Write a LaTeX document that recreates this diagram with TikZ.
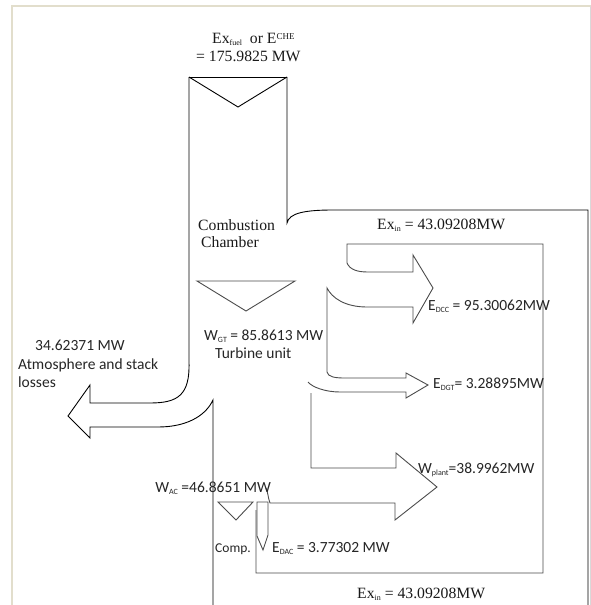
\documentclass[tikz,border=0pt]{standalone}
\usepackage{fontspec}
\setmainfont{Liberation Serif}
\newfontfamily\carlito{Carlito}
\newcommand{\sbs}[1]{\raisebox{-0.35ex}{\fontsize{8}{8}\selectfont #1}}
\newcommand{\sps}[1]{\raisebox{0.55ex}{\fontsize{9}{9}\selectfont #1}}
\tikzset{
  mainline/.style={draw=black, line width=0.9pt, line join=miter},
  grayline/.style={draw=black!70, line width=0.9pt, line join=miter},
  pageline/.style={draw=black!12!yellow!8!gray!30, line width=2pt},
  serif/.style={inner sep=0pt, anchor=base west, font=\fontsize{15.7}{18}\selectfont, text=black!90},
  sans/.style={inner sep=0pt, anchor=base west, font=\carlito\fontsize{15.5}{18}\selectfont, text=black!85},
}
\begin{document}
\begin{tikzpicture}[x=1pt,y=-1pt]
\useasboundingbox (0,0) rectangle (591,605);
\fill[white] (0,0) rectangle (591,605);
% page frame
\draw[draw={rgb,255:red,226;green,222;blue,204}, line width=2pt] (12,605) -- (12,6) -- (591,6);
\draw[draw=black!15, line width=1pt] (590,6) -- (590,605);
% fuel box
\draw[mainline] (189,77) -- (287,77);
\draw[mainline] (189,77) -- (238,107) -- (287,77);
% left wall and exhaust arrow
\draw[mainline] (189,77) -- (189,362) .. controls (190,395) and (178,403) .. (150,403)
  -- (90,403) -- (90,385) -- (68,416) -- (90,438) -- (90,427) -- (158,427)
  .. controls (185,427) and (205,417) .. (213,400) -- (213,605);
% right wall and outer frame
\draw[mainline] (287,77) -- (287,223) .. controls (289,213) and (305,210) .. (333,210)
  -- (588,210) -- (588,605);
% turbine triangle
\draw[grayline] (197,281) -- (295,281) -- (246,311) -- cycle;
% compressor triangle
\draw[grayline] (218,502) -- (253,502) -- (236,520) -- cycle;
% inner rectangle with E_DCC arrow
\draw[grayline] (256,510) -- (256,573) -- (543,573) -- (543,244) -- (347,244) -- (347,263)
  .. controls (350,270) and (358,272) .. (368,272) -- (413,272) -- (413,255) -- (433,288)
  -- (413,323) -- (413,307) -- (367,307) .. controls (345,307) and (332,298) .. (327,288)
  -- (327,372) .. controls (328,377) and (335,378) .. (345,378) -- (406,378) -- (406,373)
  -- (428,385) -- (406,398) -- (406,392) -- (340,392) .. controls (325,392) and (312,387) .. (308,382);
% W_plant arrow
\draw[grayline] (311,393) -- (311,468) -- (396,468) -- (396,453) -- (437,487) -- (395,520)
  -- (395,503) -- (270,503) .. controls (268,498) and (268,492) .. (266,488);
% E_DAC arrow
\draw[grayline] (257,502) -- (268,502) -- (268,535) -- (263,550) -- (257,536) -- cycle;
% texts
\node[serif] (fuel1) at (212,43) {Ex\sbs{fuel}\ \ or E\sps{CHE}};
\node[serif] (fuel2) at (196,61) {= 175.9825 MW};
\node[serif] (cc1) at (198,230) {Combustion};
\node[serif] (cc2) at (201,247) {Chamber};
\node[serif] (exin1) at (377,229) {Ex\sbs{in} = 43.09208MW};
\node[sans] (edcc) at (428,310) {E\sbs{DCC} = 95.30062MW};
\node[sans] (wgt) at (204,340) {W\sbs{GT} = 85.8613 MW};
\node[sans] (tu) at (215,358) {Turbine unit};
\node[sans] (loss1) at (35,350) {34.62371 MW};
\node[sans] (loss2) at (18,369) {Atmosphere and stack};
\node[sans] (loss3) at (18,387) {losses};
\node[sans] (edgt) at (433,388) {E\sbs{DGT}= 3.28895MW};
\node[sans] (wpl) at (418,473) {W\sbs{plant}=38.9962MW};
\node[sans, anchor=base east] (wac) at (271,492) {W\sbs{AC} =46.8651 MW};
\node[sans, font=\carlito\fontsize{13.5}{16}\selectfont] (comp) at (215,552) {Comp.};
\node[sans] (edac) at (272,552) {E\sbs{DAC} = 3.77302 MW};
\node[serif] (exin2) at (357,598) {Ex\sbs{in} = 43.09208MW};
\end{tikzpicture}
\end{document}
